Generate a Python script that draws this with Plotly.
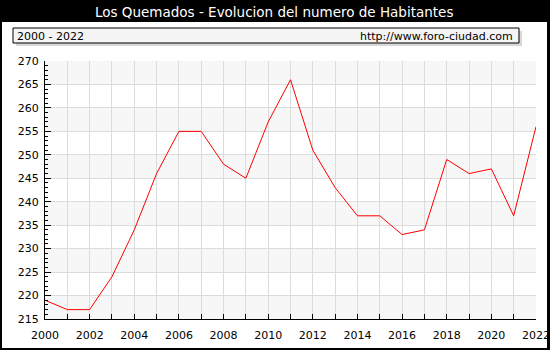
import plotly.graph_objects as go

years = list(range(2000, 2023))
habitantes = [219, 217, 217, 224, 234, 246, 255, 255, 248, 245, 257, 266,
              251, 243, 237, 237, 233, 234, 249, 246, 247, 237, 256]
y_ticks = list(range(215, 271, 5))
x_tick_text = [str(y) if y % 2 == 0 else "" for y in years]

title_text = "Los Quemados - Evolucion del numero de Habitantes"
range_text = "2000 - 2022"
url_text = "http://www.foro-ciudad.com"

W, H = 550, 350
L, R, T, B = 45, 14, 61, 31
PW, PH = W - L - R, H - T - B


def px(x):
    return (x - L) / PW


def py(y):
    return (H - B - y) / PH


FONT = "DejaVu Sans"

fig = go.Figure()
fig.add_trace(go.Scatter(x=years, y=habitantes, mode="lines",
                         line=dict(color="#ff0000", width=1),
                         hoverinfo="x+y", showlegend=False))

shapes = []
# white inner panel
shapes.append(dict(type="rect", xref="paper", yref="paper", layer="below",
                   x0=px(2), x1=px(547), y0=py(348), y1=py(22),
                   fillcolor="white", line=dict(width=0)))
# alternating bands
for i, v in enumerate(y_ticks[:-1]):
    if i % 2 == 0:
        shapes.append(dict(type="rect", xref="x domain", yref="y", layer="below",
                           x0=0, x1=1, y0=v, y1=v + 5,
                           fillcolor="#f7f7f7", line=dict(width=0)))
# info box shadow and box
shapes.append(dict(type="rect", xref="paper", yref="paper", layer="above",
                   x0=px(16), x1=px(522), y0=py(46), y1=py(31),
                   fillcolor="#d8d8d8", line=dict(width=0)))
shapes.append(dict(type="rect", xref="paper", yref="paper", layer="above",
                   x0=px(13), x1=px(519), y0=py(43), y1=py(28),
                   fillcolor="#f4f4f4", line=dict(color="black", width=1)))

annotations = [
    dict(text=title_text, xref="paper", yref="paper", x=px(274), y=py(12),
         xanchor="center", yanchor="middle", showarrow=False,
         font=dict(family=FONT, size=13.5, color="white")),
    dict(text=range_text, xref="paper", yref="paper", x=px(15), y=py(36),
         xanchor="left", yanchor="middle", showarrow=False,
         font=dict(family=FONT, size=11, color="black")),
    dict(text=url_text, xref="paper", yref="paper", x=px(515), y=py(36),
         xanchor="right", yanchor="middle", showarrow=False,
         font=dict(family=FONT, size=11, color="black")),
]

fig.update_layout(
    width=W, height=H,
    margin=dict(l=L, r=R, t=T, b=B, pad=0),
    paper_bgcolor="black",
    plot_bgcolor="white",
    shapes=shapes,
    annotations=annotations,
    font=dict(family=FONT, size=11, color="black"),
    xaxis=dict(range=[2000, 2022], tickvals=years, ticktext=x_tick_text,
               automargin=False,
               showgrid=True, gridcolor="#dcdcdc", gridwidth=1,
               showline=True, linecolor="black", linewidth=1,
               ticks="inside", ticklen=5, tickcolor="black",
               ticklabelstandoff=6,
               zeroline=False, tickfont=dict(family=FONT, size=11, color="black")),
    yaxis=dict(range=[215, 270], tickvals=y_ticks,
               automargin=False,
               showgrid=True, gridcolor="#dcdcdc", gridwidth=1,
               showline=True, linecolor="black", linewidth=1,
               ticks="inside", ticklen=6, tickcolor="black",
               ticklabelstandoff=3,
               minor=dict(dtick=1, ticks="inside", ticklen=3, tickcolor="black",
                          showgrid=False),
               zeroline=False, tickfont=dict(family=FONT, size=11, color="black")),
)

fig.write_html("out.html",
               config={"displayModeBar": False},
               post_script="document.body.style.margin='0px';"
                           "document.body.style.padding='0px';")
